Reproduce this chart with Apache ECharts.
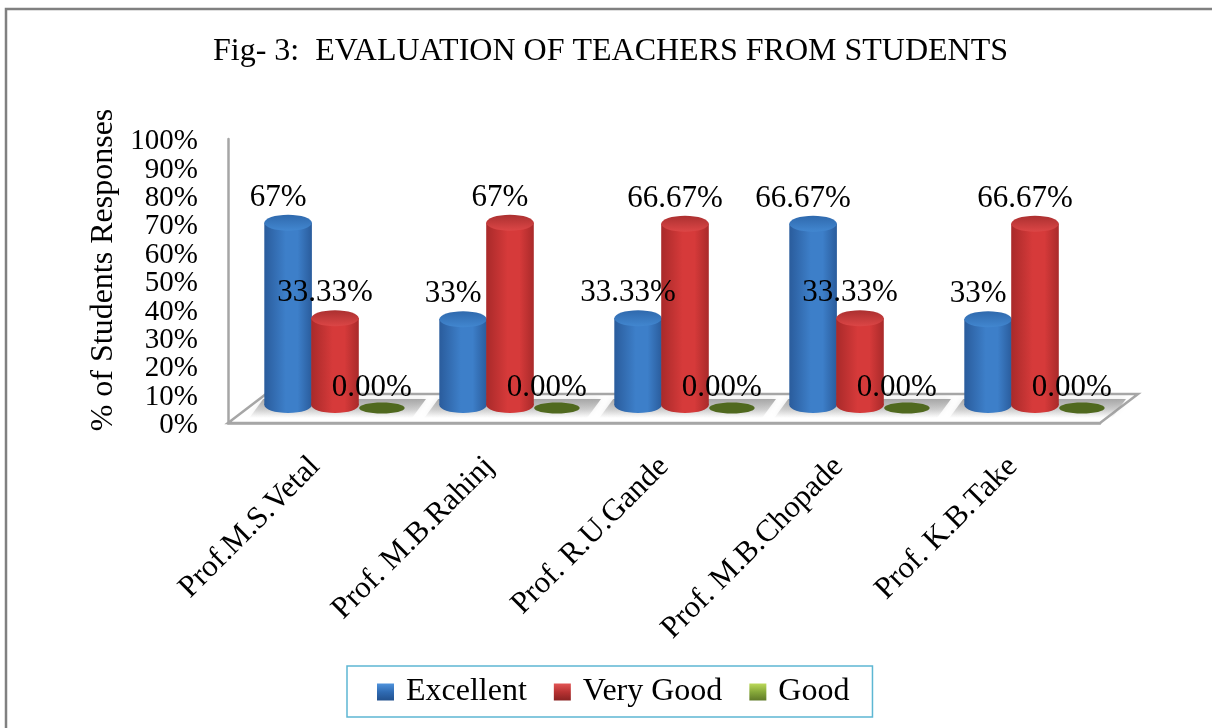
<!DOCTYPE html>
<html><head><meta charset="utf-8">
<style>html,body{margin:0;padding:0;background:#fff}#c{width:1212px;height:728px}</style>
<script src="https://cdn.jsdelivr.net/npm/echarts@6/dist/echarts.min.js"></script>
</head><body><div id="c"></div>
<script>
const titleText = 'Fig- 3:  EVALUATION OF TEACHERS FROM STUDENTS';
const yName = '% of Students Responses';
const categories = ['Prof.M.S.Vetal','Prof. M.B.Rahinj','Prof. R.U.Gande','Prof. M.B.Chopade','Prof. K.B.Take'];
const excellent = [67,33,33.33,66.67,33];
const excellentLabels = ['67%','33%','33.33%','66.67%','33%'];
const veryGood = [33.33,67,66.67,33.33,66.67];
const veryGoodLabels = ['33.33%','67%','66.67%','33.33%','66.67%'];
const good = [0,0,0,0,0];
const goodLabels = ['0.00%','0.00%','0.00%','0.00%','0.00%'];
const yTicksEven = [0,20,40,60,80,100];
const yTicksOdd = [10,30,50,70,90];
const FONT = '"Liberation Serif","Times New Roman",serif';

const palette = {
  blue:{edge:'#2a5c9c',mid:'#3d7fc9',topA:'#2f69ad',topB:'#4287d0'},
  red:{edge:'#a92a2a',mid:'#d63a3a',topA:'#ab3030',topB:'#dc4646'},
  green:{edge:'#4f6b22',mid:'#55731f',topA:'#50691f',topB:'#50691f'}
};
function grad(c){return {type:'linear',x:0,y:0,x2:1,y2:0,colorStops:[
  {offset:0,color:c.edge},{offset:.45,color:c.mid},{offset:.7,color:c.mid},{offset:1,color:c.edge}]};}
function topGrad(c){return {type:'linear',x:0,y:0,x2:0,y2:1,colorStops:[{offset:0,color:c.topA},{offset:1,color:c.topB}]};}

function cyl(c,slot){
  return function(params,api){
    const band=api.size([1,0])[0];
    const w=band*0.272, step=band*0.268;
    const zero=api.coord([api.value(0),0]);
    const top=api.coord([api.value(0),api.value(1)]);
    const cx=zero[0]+slot*step, rx=w/2;
    const val=api.value(1);
    const base=zero[1]-8;
    const kids=[];
    const labels=slot===-1?excellentLabels:slot===0?veryGoodLabels:goodLabels;
    if(val>0){
      kids.push({type:'rect',shape:{x:cx-rx,y:top[1],width:w,height:base-top[1]},style:{fill:grad(c)}});
      kids.push({type:'ellipse',shape:{cx:cx,cy:base,rx:rx,ry:8},style:{fill:grad(c)}});
      kids.push({type:'ellipse',shape:{cx:cx,cy:top[1],rx:rx,ry:8},style:{fill:topGrad(c)}});
    }else{
      kids.push({type:'ellipse',shape:{cx:cx,cy:top[1]-5,rx:rx-1,ry:5.5},style:{fill:c.topA}});
    }
    kids.push({type:'text',z2:100,style:{text:labels[params.dataIndex],x:cx-10,y:top[1]-25,align:'center',verticalAlign:'middle',fill:'#000',font:'31px '+FONT}});
    return {type:'group',children:kids};
  };
}
function rows(a){return a.map((v,i)=>[i,v]);}
const yLabelBase = {formatter:'{a|{value}%}',margin:30,color:'#000',
  rich:{a:{fontFamily:FONT,fontSize:29,color:'#000',height:20,lineHeight:20,padding:[5,0,0,0]}}};

const chart=echarts.init(document.getElementById('c'),null,{renderer:'canvas'});
chart.setOption({
  animation:false,
  backgroundColor:'#fff',
  title:{text:titleText,left:208,top:31,
    textStyle:{fontFamily:FONT,fontWeight:'normal',fontSize:32,color:'#000'}},
  legend:{
    left:347,top:666,orient:'horizontal',
    padding:[10,23,9,30],itemWidth:17,itemHeight:17,itemGap:27,
    borderColor:'#5db7d3',borderWidth:1.5,
    textStyle:{fontFamily:FONT,fontSize:32,color:'#000',padding:[5,0,0,7]},
    data:[{name:'Excellent',icon:'rect'},{name:'Very Good',icon:'rect'},{name:'Good',icon:'rect'}]
  },
  grid:[
    {left:228,width:872,top:139,height:284,containLabel:false},
    {left:247.5,width:875,top:129,height:284,containLabel:false}
  ],
  xAxis:[
    {type:'category',gridIndex:0,data:categories,axisTick:{show:false},
     axisLine:{lineStyle:{color:'#a6a6a6',width:2.5}},
     axisLabel:{rotate:45,interval:0,margin:39,color:'#000',fontFamily:FONT,fontSize:31}},
    {type:'category',gridIndex:1,data:categories,show:false}
  ],
  yAxis:[
    {type:'value',gridIndex:0,min:0,max:100,interval:10,position:'left',
     name:yName,nameLocation:'middle',nameGap:100,
     nameTextStyle:{fontFamily:FONT,fontSize:32,color:'#000',padding:[0,0,0,22]},
     axisLine:{show:true,lineStyle:{color:'#a6a6a6',width:2.5}},axisTick:{show:false},splitLine:{show:false},
     axisLabel:Object.assign({},yLabelBase,{customValues:yTicksEven,showMinLabel:true,showMaxLabel:true})},
    {type:'value',gridIndex:1,min:0,max:100,interval:10,show:false,splitLine:{show:false}},
    {type:'value',gridIndex:0,min:0,max:100,interval:10,position:'left',
     axisLine:{show:false},axisTick:{show:false},splitLine:{show:false},
     axisLabel:Object.assign({},yLabelBase,{customValues:yTicksOdd})}
  ],
  graphic:[{type:'polyline',silent:true,z:-1,shape:{points:[[6,728],[6,9],[1212,9]]},style:{fill:'none',stroke:'#808080',lineWidth:2.5}}],
  series:[
    {type:'custom',name:'floor',xAxisIndex:0,yAxisIndex:0,z:1,silent:true,data:[[0,0]],
     renderItem(params,api){
       const o=api.coord([0,0]),s=api.size([1,0])[0]*categories.length;
       const x0=params.coordSys.x, y0=o[1], d=[38,-29];
       return {type:'polygon',shape:{points:[[x0,y0],[x0+s,y0],[x0+s+d[0],y0+d[1]],[x0+d[0],y0+d[1]]]},
         style:{fill:'#fff',stroke:'#a6a6a6',lineWidth:2.5}};
     }},
    {type:'custom',name:'shadow',xAxisIndex:1,yAxisIndex:1,z:2,silent:true,data:rows(good),
     renderItem(params,api){
       const band=api.size([1,0])[0];
       const b=api.coord([api.value(0),0]);
       return {type:'polygon',shape:{points:[[b[0]-band*.49,b[1]+5],[b[0]+band*.44,b[1]+5],[b[0]+band*.52,b[1]-14],[b[0]-band*.41,b[1]-14]]},
         style:{fill:{type:'linear',x:0,y:0,x2:0,y2:1,colorStops:[{offset:0,color:'rgba(135,135,135,.7)'},{offset:.55,color:'rgba(150,150,150,.4)'},{offset:1,color:'rgba(170,170,170,0)'}]},
           shadowBlur:6,shadowColor:'rgba(150,150,150,.35)'}};
     }},
    {type:'custom',name:'Excellent',xAxisIndex:1,yAxisIndex:1,z:3,data:rows(excellent),renderItem:cyl(palette.blue,-1),
     itemStyle:{color:{type:'linear',x:0,y:0,x2:0,y2:1,colorStops:[{offset:0,color:'#4f93dc'},{offset:.5,color:'#2f6bb3'},{offset:1,color:'#22518e'}]}}},
    {type:'custom',name:'Very Good',xAxisIndex:1,yAxisIndex:1,z:3,data:rows(veryGood),renderItem:cyl(palette.red,0),
     itemStyle:{color:{type:'linear',x:0,y:0,x2:0,y2:1,colorStops:[{offset:0,color:'#e25555'},{offset:.5,color:'#b83232'},{offset:1,color:'#8a2222'}]}}},
    {type:'custom',name:'Good',xAxisIndex:1,yAxisIndex:1,z:3,data:rows(good),renderItem:cyl(palette.green,1),
     itemStyle:{color:{type:'linear',x:0,y:0,x2:0,y2:1,colorStops:[{offset:0,color:'#bcd95a'},{offset:.5,color:'#86a83a'},{offset:1,color:'#5f7a28'}]}}}
  ]
});
</script></body></html>
